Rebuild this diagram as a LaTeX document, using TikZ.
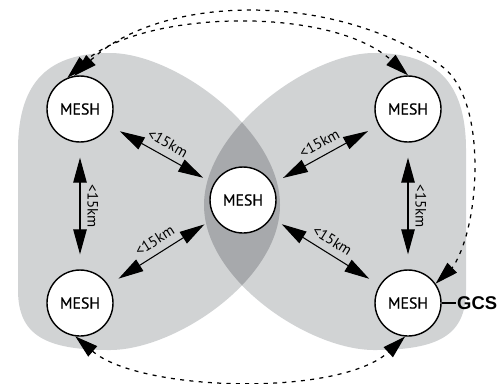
\documentclass[tikz,border=0pt]{standalone}
\usepackage{fontspec}
\setmainfont{PT Sans}
\newfontfamily\meshfont[FakeBold=0.6]{PT Sans}
\newfontfamily\gcsfont{Liberation Sans}
\usetikzlibrary{arrows.meta}
\definecolor{blobgray}{HTML}{D1D3D4}
\definecolor{lensgray}{HTML}{A7A9AC}
\def\blobL{(110,53) .. controls (175,53) and (280,130) .. (280,205) .. controls (280,280) and (175,350) .. (110,350) .. controls (45,350) and (18,335) .. (18,290) -- (18,150) .. controls (18,80) and (50,53) .. (110,53) -- cycle}
\def\blobR{(374,53) .. controls (309,53) and (204,130) .. (204,205) .. controls (204,280) and (309,350) .. (374,350) .. controls (439,350) and (466,335) .. (466,290) -- (466,150) .. controls (466,80) and (434,53) .. (374,53) -- cycle}
\begin{document}
\begin{tikzpicture}[x=0.02cm,y=-0.02cm,
  mesh/.style={circle, draw=black, line width=0.8pt, fill=white, minimum size=1.32cm, inner sep=0pt, font=\meshfont\fontsize{9}{10}\selectfont},
  link/.style={line width=0.6pt, arrows={Triangle[length=0.5cm,width=0.27cm]-Triangle[length=0.5cm,width=0.27cm]}, shorten <=0.24cm, shorten >=0.24cm},
  vlink/.style={link, shorten <=0.3cm, shorten >=0.3cm},
  lbl/.style={font=\fontsize{8.5}{9}\selectfont, inner sep=1pt},
  dots/.style={line width=0.7pt, dash pattern=on 2.3pt off 3pt, arrows={Triangle[length=0.46cm,width=0.27cm]-Triangle[length=0.46cm,width=0.27cm]}}
]
\useasboundingbox (0,0) rectangle (499,383);
\fill[blobgray] \blobL;
\fill[blobgray] \blobR;
\begin{scope}
  \clip \blobL;
  \fill[lensgray] \blobR;
\end{scope}

\node[mesh] (tl) at (80,109) {MESH};
\node[mesh] (tr) at (408,109) {MESH};
\node[mesh] (c) at (243,200) {MESH};
\node[mesh] (bl) at (80,303) {MESH};
\node[mesh] (br) at (408,303) {MESH};

\draw[link] (tl) -- node[lbl, sloped, above=3pt] {<15km} (c);
\draw[link] (c) -- node[lbl, sloped, above=3pt] {<15km} (tr);
\draw[link] (bl) -- node[lbl, sloped, above=3pt] {<15km} (c);
\draw[link] (c) -- node[lbl, sloped, above=3pt] {<15km} (br);
\draw[vlink] (tl) -- node[lbl, rotate=-90, above=3pt] {<15km} (bl);
\draw[vlink] (tr) -- node[lbl, rotate=-90, above=3pt] {<15km} (br);

\draw[dots] (tl.112) .. controls (140,10) and (330,5) .. (tr.90);
\draw[dots] (tl.100) .. controls (160,-5) and (330,-10) .. (440,65) .. controls (470,85) and (478,140) .. (474,190) .. controls (470,240) and (455,265) .. (br.35);
\draw[dots] (bl.262) .. controls (140,392) and (340,397) .. (br.265);

\node[anchor=west, inner sep=0.5pt, font=\gcsfont\bfseries\fontsize{10.5}{12}\selectfont] (gcs) at (456,303) {GCS};
\draw[line width=0.6pt] (br.east) -- (gcs.west);
\end{tikzpicture}
\end{document}
